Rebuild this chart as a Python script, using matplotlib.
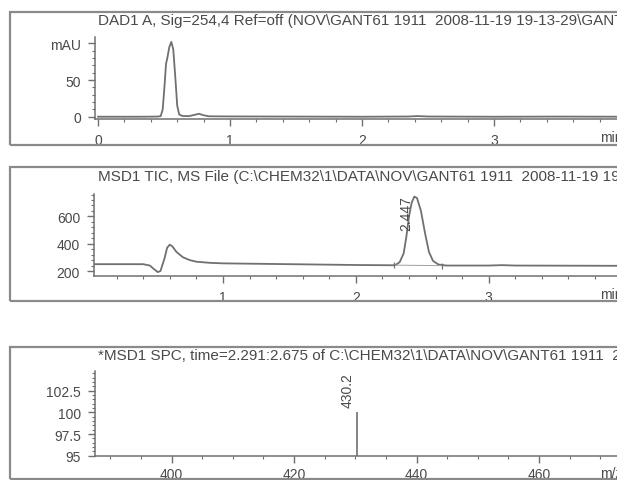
import matplotlib
matplotlib.use('Agg')
import matplotlib.pyplot as plt
from matplotlib.ticker import MultipleLocator, FixedLocator
from matplotlib.patches import Rectangle

plt.rcParams['font.family'] = ['Liberation Sans', 'DejaVu Sans']

W, H = 617, 481
TXT = '#4a4a4a'
LN = '#707070'

# DAD1 A trace (min, mAU)
dad_t = [0.0, 0.30, 0.45, 0.475, 0.49, 0.505, 0.515, 0.525, 0.54, 0.555, 0.57,
         0.585, 0.60, 0.615, 0.64, 0.69, 0.73, 0.765, 0.80, 0.84, 1.0, 1.5,
         2.0, 2.35, 2.42, 2.5, 3.0, 3.5, 4.0]
dad_mau = [0.0, 0.0, 0.2, 0.8, 10, 45, 72, 80, 95, 102, 92,
           55, 15, 3, 1.0, 0.8, 2.5, 4.0, 2.0, 0.6, 0.4, 0.2,
           0.0, 0.3, 0.9, 0.3, 0.0, 0.2, 0.0]

# MSD1 TIC trace (min, counts)
tic_t = [0.03, 0.40, 0.45, 0.48, 0.51, 0.53, 0.56, 0.58, 0.60, 0.62, 0.65,
         0.70, 0.75, 0.80, 0.90, 1.0, 1.5, 2.0, 2.28, 2.30, 2.33, 2.36, 2.38,
         2.40, 2.42, 2.44, 2.46, 2.49, 2.52, 2.55, 2.58, 2.62, 2.68, 3.0,
         3.1, 3.2, 4.0]
tic_counts = [250, 250, 240, 215, 192, 200, 290, 370, 393, 380, 340,
              300, 280, 268, 260, 256, 250, 244, 242, 245, 265, 330, 450,
              600, 700, 745, 735, 640, 480, 340, 275, 248, 240, 240,
              243, 240, 238]
tic_base_t = [2.29, 2.65]
tic_base_y = [243, 239]
tic_peak = 2.447

# MSD1 SPC spectrum
spc_mz = [430.2]
spc_int = [100]

titles = [
    'DAD1 A, Sig=254,4 Ref=off (NOV\\GANT61 1911  2008-11-19 19-13-29\\GANT61 1911.D)',
    'MSD1 TIC, MS File (C:\\CHEM32\\1\\DATA\\NOV\\GANT61 1911  2008-11-19 19-13-29\\GANT61 1911.D)',
    '*MSD1 SPC, time=2.291:2.675 of C:\\CHEM32\\1\\DATA\\NOV\\GANT61 1911  2008-11-19 19-13-29',
]

fig = plt.figure(figsize=(W / 100, H / 100), dpi=100)


def px_axes(left, top, right, bottom):
    return fig.add_axes([left / W, 1 - bottom / H, (right - left) / W, (bottom - top) / H])


def frame(top, bottom):
    fig.add_artist(Rectangle((10 / W, 1 - bottom / H), 700 / W, (bottom - top) / H,
                             transform=fig.transFigure, fill=False,
                             edgecolor='#8a8a8a', linewidth=1.6))


def style(ax):
    for s in ['top', 'right']:
        ax.spines[s].set_visible(False)
    for s in ['left', 'bottom']:
        ax.spines[s].set_color(LN)
        ax.spines[s].set_linewidth(1.1)
    ax.tick_params(which='major', direction='out', length=5, width=1, color=LN,
                   labelsize=10, labelcolor=TXT, pad=5)
    ax.tick_params(which='minor', direction='out', length=2.5, width=0.8, color=LN)
    ax.set_facecolor('none')


# panel 1
frame(12.7, 145.7)
ax1 = px_axes(95, 38, 622, 120)
ax1.plot(dad_t, dad_mau, color=LN, lw=1.3)
ax1.set_xlim(-0.023, 3.97)
ax1.set_ylim(-3.1, 108.7)
ax1.xaxis.set_major_locator(MultipleLocator(1))
ax1.xaxis.set_minor_locator(MultipleLocator(0.2))
ax1.yaxis.set_major_locator(FixedLocator([0, 50, 100]))
ax1.set_yticklabels(['0', '50', 'mAU'])
ax1.yaxis.set_minor_locator(MultipleLocator(10))
style(ax1)
fig.text(98 / W, 1 - 21 / H, titles[0], ha='left', va='center', fontsize=11, color=TXT)
fig.text(600 / W, 1 - 138 / H, 'min', ha='left', va='center', fontsize=10, color=TXT)

# panel 2
frame(168.3, 302)
ax2 = px_axes(94, 195, 619, 276.7)
ax2.plot(tic_t, tic_counts, color=LN, lw=1.3)
ax2.plot(tic_base_t, tic_base_y, color='#a0a0a0', lw=0.7)
ax2.plot(tic_base_t, tic_base_y, ls='none', marker='|', ms=5, color=LN, mew=0.9)
ax2.text(2.383, 497, '%.3f' % tic_peak, rotation=90, ha='center', va='bottom',
         fontsize=10, color=TXT)
ax2.set_xlim(0.03, 3.98)
ax2.set_ylim(165.6, 764)
ax2.xaxis.set_major_locator(MultipleLocator(1))
ax2.xaxis.set_minor_locator(MultipleLocator(0.2))
ax2.yaxis.set_major_locator(FixedLocator([200, 400, 600]))
ax2.yaxis.set_minor_locator(MultipleLocator(40))
style(ax2)
fig.text(98 / W, 1 - 177 / H, titles[1], ha='left', va='center', fontsize=11, color=TXT)
fig.text(600 / W, 1 - 295 / H, 'min', ha='left', va='center', fontsize=10, color=TXT)

# panel 3
frame(348.3, 479.5)
ax3 = px_axes(95, 371.7, 631, 456.7)
ax3.vlines(spc_mz, 95, spc_int, color=LN, lw=1.2)
for mz, h in zip(spc_mz, spc_int):
    ax3.text(mz - 1.4, h + 0.6, '%.1f' % mz, rotation=90, ha='center', va='bottom',
             fontsize=10, color=TXT)
ax3.set_xlim(387.5, 475)
ax3.set_ylim(95, 104.8)
ax3.xaxis.set_major_locator(MultipleLocator(20))
ax3.xaxis.set_minor_locator(MultipleLocator(5))
ax3.yaxis.set_major_locator(FixedLocator([95, 97.5, 100, 102.5]))
ax3.set_yticklabels(['95', '97.5', '100', '102.5'])
ax3.yaxis.set_minor_locator(MultipleLocator(0.5))
style(ax3)
ax3.tick_params(axis='x', pad=3)
fig.text(98 / W, 1 - 356 / H, titles[2], ha='left', va='center', fontsize=11, color=TXT)
fig.text(600 / W, 1 - 474 / H, 'm/z', ha='left', va='center', fontsize=10, color=TXT)

fig.savefig('out.png', dpi=100)
